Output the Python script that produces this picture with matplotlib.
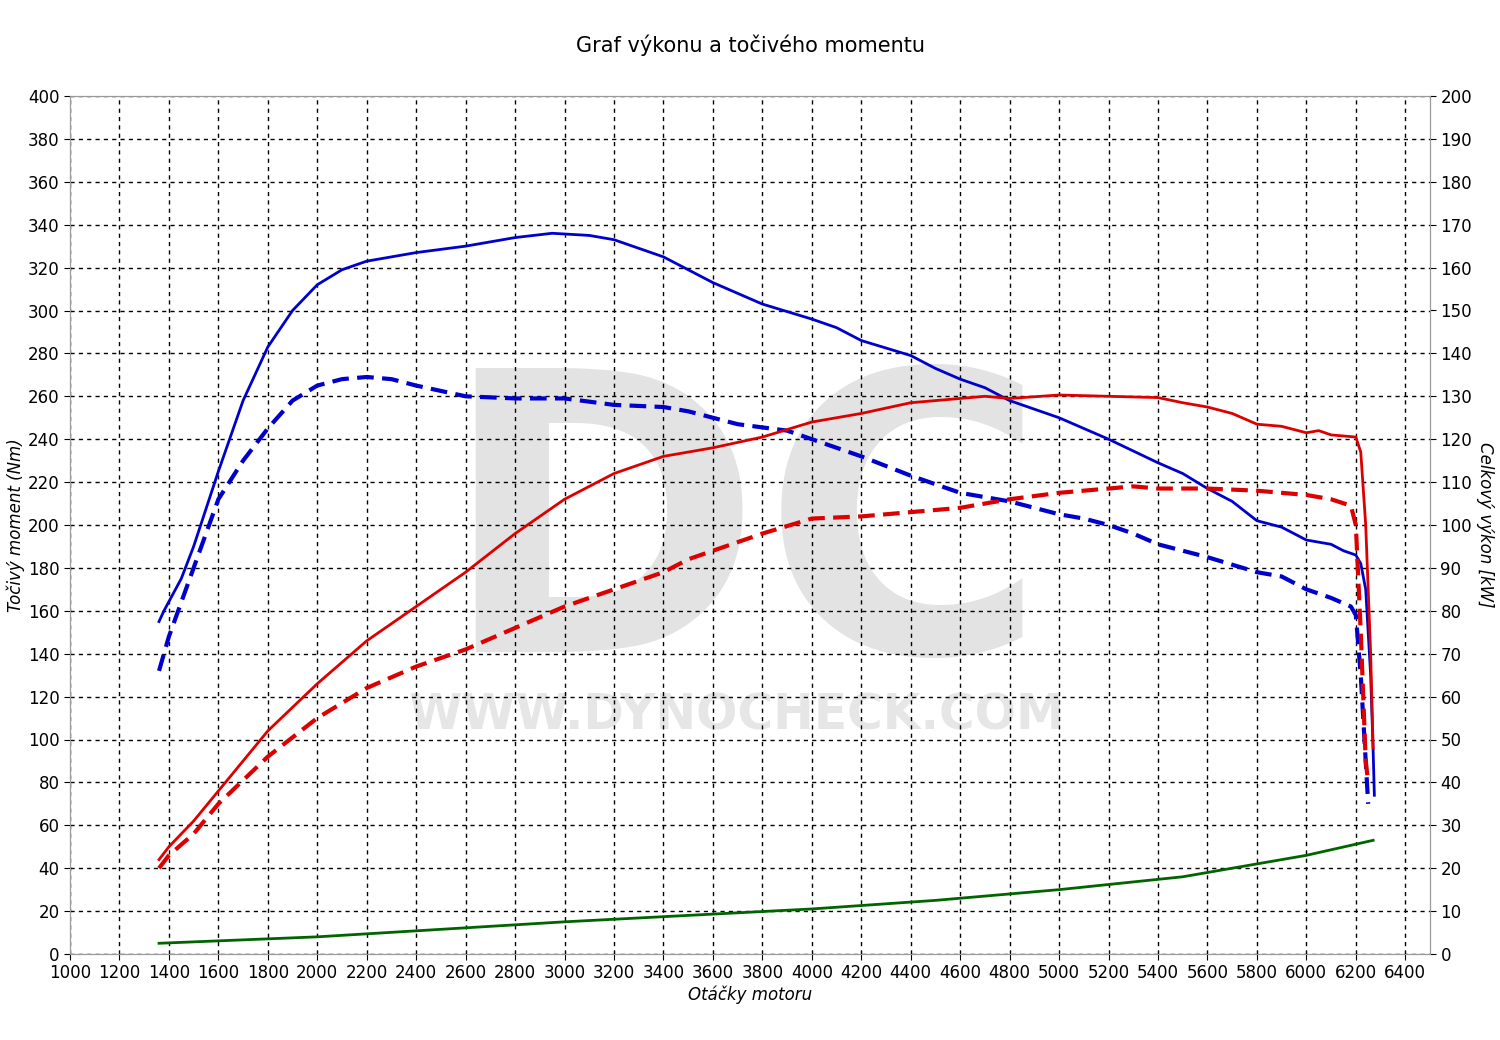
import matplotlib
matplotlib.use("Agg")
import matplotlib.pyplot as plt

rpm_ts = [1360,1380,1450,1500,1600,1700,1800,1900,2000,2100,2200,2400,2600,2800,2950,3100,3200,3400,3600,3800,4000,4100,4200,4400,4500,4600,4700,4800,5000,5200,5400,5500,5600,5700,5800,5900,6000,6100,6150,6200,6220,6240,6260,6270,6275]
torque_tuned = [155,160,175,190,225,258,283,300,312,319,323,327,330,334,336,335,333,325,313,303,296,292,286,279,273,268,264,258,250,240,229,224,217,211,202,199,193,191,188,186,182,170,130,95,74]

rpm_ts2 = [1360,1400,1500,1600,1700,1800,1900,2000,2100,2200,2300,2400,2600,2800,3000,3200,3400,3500,3600,3700,3900,4000,4200,4400,4600,4800,5000,5100,5200,5300,5400,5600,5800,5900,6000,6100,6180,6200,6220,6240,6250]
torque_stock = [132,148,180,212,230,245,258,265,268,269,268,265,260,259,259,256,255,253,250,247,244,240,232,223,215,211,205,203,200,196,191,185,178,176,170,166,162,158,130,90,70]

rpm_p = [1360,1400,1500,1600,1800,2000,2200,2400,2600,2800,3000,3200,3400,3600,3800,4000,4200,4400,4600,4700,4800,5000,5200,5400,5500,5600,5700,5800,5900,6000,6050,6100,6200,6220,6240,6260,6270]
power_tuned = [22,25,31,38,52,63,73,81,89,98,106,112,116,118,120.5,124,126,128.5,129.5,130,129.5,130.3,130,129.7,128.5,127.5,126,123.5,123,121.5,122,121,120.5,117,100,70,48]

rpm_p2 = [1360,1400,1500,1600,1800,2000,2200,2400,2600,2800,3000,3200,3400,3500,3600,3800,4000,4200,4400,4600,4800,5000,5200,5300,5400,5600,5800,6000,6100,6180,6200,6220,6240,6250]
power_stock = [20,23,28,35,46,55,62,67,71,76,81,85,89,92,94,98,101.5,102,103,104,106,107.5,108.5,109,108.5,108.5,108,107,106,104.5,100,75,45,40]

rpm_loss = [1360,2000,3000,4000,4500,5000,5500,6000,6270]
loss = [5,8,15,21,25,30,36,46,53]

fig = plt.figure(figsize=(15,10.4), dpi=100)
ax = fig.add_axes([70/1500, 1-954/1040, 1360/1500, 858/1040])
ax2 = ax.twinx()

ax.text(0.495,0.352,"DC",transform=ax.transAxes,ha="center",va="baseline",fontsize=280,
        fontweight="bold",color="#e3e3e3",zorder=0,family="DejaVu Sans")
ax.text(0.49,0.278,"WWW.DYNOCHECK.COM",transform=ax.transAxes,ha="center",va="center",
        fontsize=35,fontweight="bold",color="#e6e6e6",zorder=0)

ax.plot(rpm_ts, torque_tuned, color="#0000cc", lw=2, zorder=3)
ax.plot(rpm_ts2, torque_stock, color="#0000cc", lw=3, ls=(0,(4,2)), zorder=3)
ax.plot(rpm_loss, loss, color="#006400", lw=2, zorder=3)
ax2.plot(rpm_p, power_tuned, color="#dd0000", lw=2, zorder=3)
ax2.plot(rpm_p2, power_stock, color="#dd0000", lw=3, ls=(0,(4,2)), zorder=3)

ax.set_xlim(1000,6500)
ax.set_ylim(0,400)
ax2.set_ylim(0,200)
ax.set_xticks(range(1000,6401,200))
ax.set_yticks(range(0,401,20))
ax2.set_yticks(range(0,201,10))
ax.grid(True, color="black", ls=(0,(3,3)), lw=1)
for a in (ax, ax2):
    a.tick_params(labelsize=12, length=4)
    for s in a.spines.values():
        s.set_color("#999999")
ax.set_xlabel("Otáčky motoru", fontsize=12, style="italic", labelpad=2)
ax.set_ylabel("Točivý moment (Nm)", fontsize=12, style="italic", labelpad=2)
ax2.set_ylabel("Celkový výkon [kW]", fontsize=12, style="italic", rotation=270, labelpad=16)
fig.text(0.5, 1-45/1040, "Graf výkonu a točivého momentu", ha="center", va="center", fontsize=15)
fig.savefig("out.png", dpi=100, facecolor="white")
